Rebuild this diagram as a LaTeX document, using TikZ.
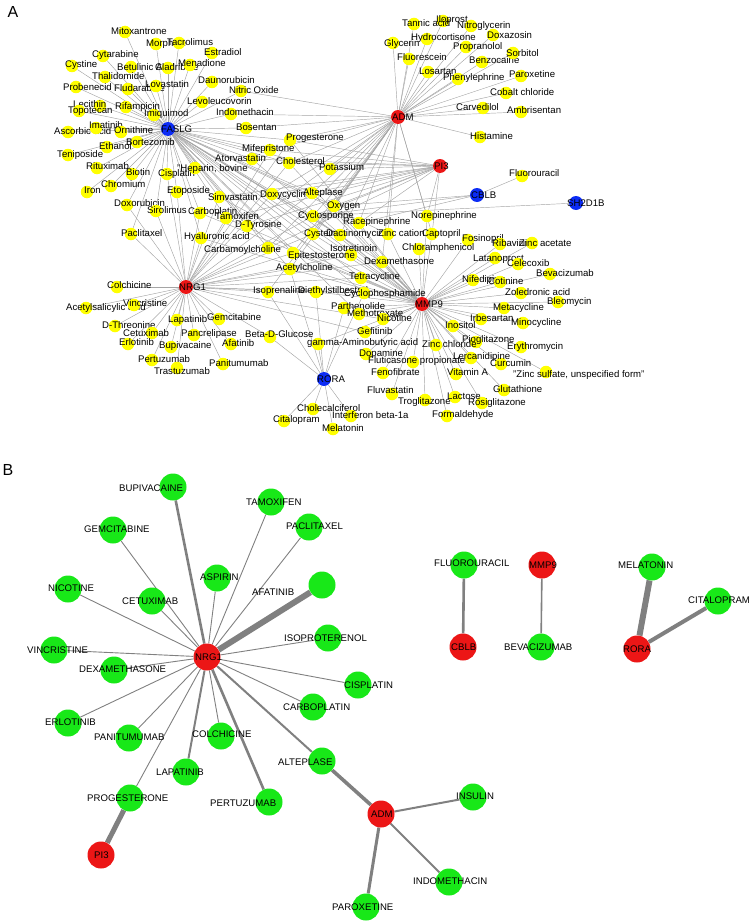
\documentclass[tikz,border=0pt]{standalone}
\usepackage{fontspec}
\setmainfont{Liberation Sans}
\usetikzlibrary{backgrounds}
\definecolor{nodeyellow}{RGB}{255,255,0}
\definecolor{nodered}{RGB}{236,22,22}
\definecolor{nodeblue}{RGB}{12,44,245}
\definecolor{nodegreen}{RGB}{24,232,24}
\definecolor{edgelight}{RGB}{165,165,165}
\definecolor{edgedark}{RGB}{128,128,128}
\tikzset{
  drug/.style={circle, fill=nodeyellow, minimum size=12.5pt, inner sep=0pt},
  hubred/.style={circle, fill=nodered, minimum size=14pt, inner sep=0pt},
  hubblue/.style={circle, fill=nodeblue, minimum size=14pt, inner sep=0pt},
  bdrug/.style={circle, fill=nodegreen, minimum size=27pt, inner sep=0pt},
  bhub/.style={circle, fill=nodered, minimum size=27pt, inner sep=0pt},
  lbl/.style={anchor=base west, inner sep=0pt, yshift=-3.5pt,
    font=\fontsize{9.6}{10}\selectfont},
  link/.style={draw=edgelight, line width=0.45pt},
  blink/.style={draw=edgedark, line width=#1},
  blink/.default=0.8pt,
  panel/.style={font=\fontsize{16}{18}\selectfont, inner sep=0pt}
}

\begin{document}
\begin{tikzpicture}[x=1pt, y=-1pt]
  \useasboundingbox (0,0) rectangle (753,923);
  \node[panel] (panA) at (13,12) {A};
  \node[panel] (panB) at (8,470) {B};

  % Panel A: drug nodes
  \foreach \n/\cx/\cy/\lx/\ly/\t in {
    mitox/125/32/111/31/Mitoxantrone, morph/156/44/146/43/Morphine,
    tacro/179/43/167/42/Tacrolimus, estra/212/53/204/52/Estradiol,
    cytar/103/56/92/54/Cytarabine, cysti/72/66/65/64/Cystine,
    betul/131/67/117/67/Betulinic Acid, gado/168/68/155/67/Cladribine,
    menad/190/65/178/63/Menadione, thali/105/77/92/76/Thalidomide,
    dauno/212/82/198/80/Daunorubicin, probe/76/87/63/87/Probenecid,
    fluda/128/89/114/88/Fludarabine, lova/156/86/145/84/Lovastatin,
    nitox/241/91/229/90/Nitric Oxide, lecit/100/106/73/104/Lecithin,
    topot/79/111/68/110/Topotecan, rifam/126/107/115/106/Rifampicin,
    levol/202/102/187/101/Levoleucovorin, imiq/154/115/144/113/Imiquimod,
    indo/231/114/216/112/Indomethacin, ascor/68/132/54/131/Ascorbic acid,
    imati/96/128/89/125/Imatinib, ornit/121/132/114/130/Ornithine,
    bosen/246/128/236/127/Bosentan, ethan/107/147/99/146/Ethanol,
    borte/137/142/126/142/Bortezomib, tenip/68/155/57/154/Teniposide,
    ritux/97/168/86/166/Rituximab, bioti/132/174/126/172/Biotin,
    cispl/167/174/158/173/Cisplatin, hepar/195/168/177/168/{"Heparin, bovine},
    atorv/252/159/215/158/Atorvastatin, iron/87/192/84/190/Iron,
    chrom/111/186/101/184/Chromium, etopo/177/192/167/190/Etoposide,
    simva/219/197/208/197/Simvastatin, doxor/127/205/114/203/Doxorubicin,
    sirol/156/211/147/210/Sirolimus, carbo/200/213/188/211/Carboplatin,
    tamox/226/218/215/216/Tamoxifen, dtyro/247/226/235/224/D-Tyrosine,
    pacli/131/234/121/233/Paclitaxel, hyalu/201/238/184/236/Hyaluronic acid,
    carba/268/248/204/249/Carbamoylcholine, colch/117/287/107/285/Colchicine,
    isopr/268/292/253/290/Isoprenaline,
    ilopr/443/21/436/19/Iloprost, tanni/414/24/402/23/Tannic acid,
    nitro/471/26/457/25/Nitroglycerin, doxaz/493/35/487/35/Doxazosin,
    hydro/427/39/411/37/Hydrocortisone, glyce/393/43/384/43/Glycerin,
    propr/466/47/453/46/Propranolol, fluor/409/59/397/57/Fluorescein,
    benzo/482/62/469/60/Benzocaine, losar/428/72/419/71/Losartan,
    pheny/458/79/443/77/Phenylephrine, sorbi/513/53/506/53/Sorbitol,
    parox/521/76/509/74/Paroxetine, cobal/506/93/490/92/Cobalt chloride,
    carve/483/108/456/107/Carvedilol, ambri/521/112/507/110/Ambrisentan,
    hista/480/137/470/136/Histamine, proge/290/140/286/137/Progesterone,
    mifep/270/150/242/148/Mifepristone, chole/289/163/276/161/Cholesterol,
    potas/330/169/319/167/Potassium, doxyc/272/194/260/194/Doxycycline,
    altep/312/193/303/192/Alteplase, oxyge/334/206/327/205/Oxygen,
    cyclo/313/216/298/215/Cyclosporine, racep/359/223/343/221/Racepinephrine,
    norep/427/216/411/215/Norepinephrine, cyste/313/234/304/233/Cysteine,
    dacti/340/235/326/233/Dactinomycin, zincc/388/234/378/233/Zinc cation,
    capto/432/234/422/233/Captopril, fosin/468/240/462/238/Fosinopril,
    isotr/351/255/330/248/Isotretinoin, epite/293/253/288/255/Epitestosterone,
    chlor/419/249/402/247/Chloramphenicol, latan/495/258/473/258/Latanoprost,
    acetc/290/269/276/267/Acetylcholine, dexam/382/262/364/261/Dexamethasone,
    tetra/361/278/349/276/Tetracycline, nifed/473/280/462/279/Nifedipine,
    diethy/316/292/298/290/Diethylstilbestrol, cyclop/364/293/344/293/Cyclophosphamide,
    fluou/522/176/509/173/Fluorouracil, ribav/500/244/492/243/Ribavirin,
    zinca/532/243/519/243/Zinc acetate, celec/518/264/507/263/Celecoxib,
    bevac/550/274/536/273/Bevacizumab, cotin/500/282/488/281/Cotinine,
    zoled/521/293/505/292/Zoledronic acid, bleom/558/302/547/301/Bleomycin,
    metac/504/308/493/307/Metacycline, irbes/481/319/470/318/Irbesartan,
    minoc/523/323/511/322/Minocycline, eryth/521/347/507/346/Erythromycin,
    curcu/501/364/490/363/Curcumin,
    zincs/546/372/513/374/{"Zinc sulfate, unspecified form"},
    gluta/504/390/493/389/Glutathione, rosig/482/403/468/402/Rosiglitazone,
    parth/344/308/331/306/Parthenolide, metho/359/314/347/313/Methotrexate,
    nicot/383/319/377/318/Nicotine, inosi/453/326/445/325/Inositol,
    gefit/365/332/357/331/Gefitinib, betad/270/337/245/334/Beta-D-Glucose,
    gaba/318/344/307/342/gamma-Aminobutyric acid,
    piogl/476/342/462/339/Pioglitazone, zincl/436/345/422/344/Zinc chloride,
    dopam/366/354/359/353/Dopamine, lerca/471/358/453/356/Lercanidipine,
    flutic/413/362/368/360/Fluticasone propionate, fenof/383/373/371/372/Fenofibrate,
    vitam/456/374/447/372/Vitamin A, fluva/392/394/367/390/Fluvastatin,
    trogl/425/400/398/401/Troglitazone, lacto/455/397/447/396/Lactose,
    cholc/313/409/297/408/Cholecalciferol, inter/351/416/332/415/Interferon beta-1a,
    cital/284/421/273/419/Citalopram, forma/447/416/432/414/Formaldehyde,
    melat/333/429/322/428/Melatonin,
    acets/86/308/66/307/Acetylsalicylic acid, vincr/134/305/123/303/Vincristine,
    lapat/177/320/168/319/Lapatinib, gemci/219/319/207/317/Gemcitabine,
    dthre/115/326/102/325/D-Threonine, cetux/152/333/123/333/Cetuximab,
    pancr/194/335/181/333/Pancrelipase, erlot/128/344/119/342/Erlotinib,
    bupiv/171/347/159/345/Bupivacaine, afati/231/344/222/343/Afatinib,
    pertu/152/360/138/359/Pertuzumab, panit/223/364/209/363/Panitumumab,
    trast/177/368/154/371/Trastuzumab}{
    \node[drug] (\n) at (\cx,\cy) {};
    \node[lbl] (\n-t) at (\lx,\ly) {\t};
  }

  % Panel A: targets
  \foreach \n/\s/\cx/\cy/\lx in {FASLG/hubblue/168/129/161, ADM/hubred/398/117/392,
    PI3/hubred/440/166/434, CBLB/hubblue/477/195/471, SH2D1B/hubblue/576/203/567,
    NRG1/hubred/186/287/179, MMP9/hubred/422/304/415, RORA/hubblue/324/379/317}{
    \node[\s] (\n) at (\cx,\cy) {};
    \node[lbl] (\n-t) at (\lx,\cy) {\n};
  }

  \begin{scope}[on background layer]
    \foreach \d in {mitox, morph, tacro, estra, cytar, cysti, betul, gado, menad,
      thali, dauno, probe, fluda, lova, nitox, lecit, topot, rifam, levol, imiq,
      indo, ascor, imati, ornit, bosen, ethan, borte, tenip, ritux, bioti, cispl,
      hepar, atorv, iron, chrom, etopo, simva, doxor, sirol, carbo, tamox, dtyro,
      pacli, hyalu, mifep, proge, chole, potas, doxyc, altep, oxyge, cyclo, cyste,
      dacti, epite, acetc, isotr, dexam, carba, tetra, cyclop, zincc, metho}
      \draw[link] (FASLG) -- (\d);
    \foreach \d in {ilopr, tanni, nitro, doxaz, hydro, glyce, propr, fluor, benzo,
      losar, pheny, sorbi, parox, cobal, carve, ambri, hista, nitox, indo, bosen,
      proge, mifep, chole, potas, altep, oxyge, cyclo, racep, norep, zincc, capto,
      dexam, acetc, carba, isopr, epite, dtyro, doxyc, cyste, dacti}
      \draw[link] (ADM) -- (\d);
    \foreach \d in {proge, chole, potas, doxyc, altep, oxyge, cyclo, racep, norep,
      capto, mifep, atorv, simva, tamox, dtyro, carba}
      \draw[link] (PI3) -- (\d);
    \foreach \d in {fluou, cyclo, oxyge, racep}
      \draw[link] (CBLB) -- (\d);
    \draw[link] (SH2D1B) -- (cyclo);
    \foreach \d in {colch, acets, vincr, dthre, cetux, erlot, lapat, gemci, pancr,
      bupiv, afati, pertu, trast, panit, pacli, doxor, sirol, etopo, cispl, carbo,
      hyalu, tamox, isopr, carba, acetc, diethy, proge, altep, nicot, dexam, isotr,
      epite, gefit, cyclop, tetra, chole, mifep, doxyc, betad, simva, cyclo, cyste}
      \draw[link] (NRG1) -- (\d);
    \foreach \d in {ribav, zinca, latan, celec, bevac, nifed, cotin, zoled, bleom,
      metac, irbes, minoc, eryth, curcu, zincs, gluta, rosig, inosi, piogl, zincl,
      lerca, vitam, lacto, forma, trogl, fluva, fenof, flutic, dopam, gefit, nicot,
      metho, parth, gaba, fosin, chlor, capto, norep, dexam, tetra, cyclop, zincc,
      isotr, dacti, doxyc, epite, cyste, atorv, simva, carbo, acetc, hyalu, diethy,
      altep, oxyge, cyclo, racep, chole, proge, tamox}
      \draw[link] (MMP9) -- (\d);
    \foreach \d in {cholc, cital, melat, inter, betad, diethy, parth, isopr, gaba,
      acetc, cyclop}
      \draw[link] (RORA) -- (\d);
  \end{scope}

  % Panel B: drug nodes
  \foreach \n/\cx/\cy/\lx/\ly/\t in {
    bupi/173/487/119/488/BUPIVACAINE, tamo/271/502/246/502/TAMOXIFEN,
    pacl/309/527/286/526/PACLITAXEL, gemc/113/530/84/529/GEMCITABINE,
    aspi/217/578/200/577/ASPIRIN, afat/322/585/252/592/AFATINIB,
    nico/68/589/48/588/NICOTINE, cetu/152/601/122/601/CETUXIMAB,
    isop/328/638/284/638/ISOPROTERENOL, vinc/54/650/27/650/VINCRISTINE,
    dexa/114/670/79/669/DEXAMETHASONE, cisp/358/685/344/685/CISPLATIN,
    carb/313/707/283/707/CARBOPLATIN, erlo/68/723/45/722/ERLOTINIB,
    pani/129/738/94/737/PANITUMUMAB, colc/221/736/192/734/COLCHICINE,
    alte/322/761/278/762/ALTEPLASE, lapa/186/772/156/772/LAPATINIB,
    prog/130/798/87/798/PROGESTERONE, pert/269/802/210/803/PERTUZUMAB,
    insu/473/797/456/796/INSULIN, indm/449/882/413/881/INDOMETHACIN,
    paro/366/907/332/907/PAROXETINE, fluo/464/565/434/563/FLUOROURACIL,
    beva/541/647/504/647/BEVACIZUMAB, mela/652/567/618/565/MELATONIN,
    cita/718/601/688/600/CITALOPRAM}{
    \node[bdrug] (b-\n) at (\cx,\cy) {};
    \node[lbl] (b-\n-t) at (\lx,\ly) {\t};
  }

  % Panel B: targets
  \foreach \n/\cx/\cy/\lx in {NRG1/207/657/195, PI3/101/855/94, ADM/381/814/371,
    CBLB/463/647/451, MMP9/542/565/529, RORA/637/649/623}{
    \node[bhub] (b-\n) at (\cx,\cy) {};
    \node[lbl] (b-\n-t) at (\lx,\cy) {\n};
  }

  \begin{scope}[on background layer]
    \foreach \d/\w in {bupi/2.6pt, tamo/0.9pt, pacl/0.9pt, gemc/0.9pt, aspi/0.9pt,
      afat/6pt, nico/0.9pt, cetu/0.9pt, isop/0.9pt, vinc/0.9pt, dexa/0.9pt,
      cisp/0.9pt, carb/0.9pt, erlo/0.9pt, pani/0.9pt, colc/0.9pt, lapa/2pt,
      pert/2.6pt, alte/2pt, prog/0.9pt}
      \draw[blink=\w] (b-NRG1) -- (b-\d);
    \draw[blink=5pt] (b-prog) -- (b-PI3);
    \draw[blink=3.6pt] (b-alte) -- (b-ADM);
    \draw[blink=2pt] (b-ADM) -- (b-insu);
    \draw[blink=2pt] (b-ADM) -- (b-indm);
    \draw[blink=3pt] (b-ADM) -- (b-paro);
    \draw[blink=2.6pt] (b-fluo) -- (b-CBLB);
    \draw[blink=1.6pt] (b-MMP9) -- (b-beva);
    \draw[blink=6pt] (b-mela) -- (b-RORA);
    \draw[blink=4pt] (b-cita) -- (b-RORA);
  \end{scope}
\end{tikzpicture}
\end{document}
